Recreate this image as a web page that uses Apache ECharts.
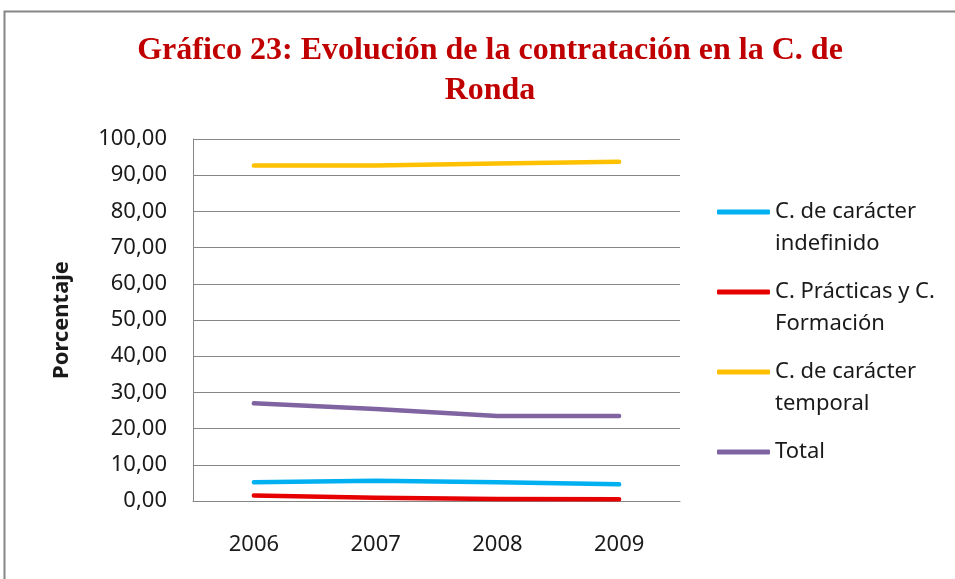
<!DOCTYPE html>
<html>
<head>
<meta charset="utf-8">
<script src="https://cdn.jsdelivr.net/npm/echarts@6/dist/echarts.min.js"></script>
<style>
  html, body { margin: 0; padding: 0; background: #fff; }
  #chart { width: 955px; height: 579px; }
</style>
</head>
<body>
<div id="chart"></div>
<script>
// datos
var years = ['2006', '2007', '2008', '2009'];
var indefinido = [5.2, 5.6, 5.2, 4.6];
var practicas = [1.5, 0.9, 0.55, 0.5];
var temporal = [92.7, 92.7, 93.2, 93.7];
var total = [27.0, 25.4, 23.5, 23.5];
var seriesNames = ['C. de carácter indefinido', 'C. Prácticas y C. Formación', 'C. de carácter temporal', 'Total'];
// nombres partidos en dos lineas como en la leyenda
var legendLabels = {
  'C. de carácter indefinido': 'C. de carácter\nindefinido',
  'C. Prácticas y C. Formación': 'C. Prácticas y C.\nFormación',
  'C. de carácter temporal': 'C. de carácter\ntemporal',
  'Total': 'Total\n '
};

var chart = echarts.init(document.getElementById('chart'));

function lineSerie(name, data, color) {
  return {
    name: name,
    type: 'line',
    data: data,
    showSymbol: false,
    symbol: 'none',
    color: color,
    lineStyle: { width: 4.5, color: color, cap: 'round', join: 'round' }
  };
}

var option = {
  animation: false,
  backgroundColor: '#ffffff',
  title: {
    text: 'Gráfico 23: Evolución de la contratación en la C. de\nRonda',
    left: 485,
    top: 26,
    textAlign: 'center',
    textStyle: {
      fontFamily: 'Liberation Serif',
      fontWeight: 'bold',
      fontSize: 32,
      lineHeight: 40,
      color: '#C00000'
    }
  },
  graphic: [{
    type: 'rect',
    shape: { x: 4.5, y: 11.5, width: 1000, height: 1000 },
    style: { fill: 'none', stroke: '#868686', lineWidth: 2 },
    silent: true
  }],
  grid: { left: 193, right: 275, top: 139, bottom: 78 },
  legend: {
    orient: 'vertical',
    left: 717,
    top: 164,
    padding: 0,
    itemGap: -16,
    itemWidth: 53,
    itemHeight: 5,
    icon: 'roundRect',
    data: seriesNames,
    formatter: function (name) { return ' \n' + legendLabels[name]; },
    textStyle: {
      fontFamily: 'Noto Sans',
      fontSize: 22,
      lineHeight: 32,
      color: '#1a1a1a',
      padding: [0, 0, 0, 0]
    }
  },
  xAxis: {
    type: 'category',
    data: years,
    boundaryGap: true,
    axisLine: { lineStyle: { color: '#868686', width: 1 } },
    axisTick: { show: false },
    axisLabel: { fontFamily: 'Noto Sans', fontSize: 22, color: '#1a1a1a', margin: 33 }
  },
  yAxis: {
    type: 'value',
    min: 0,
    max: 100,
    interval: 10,
    name: 'Porcentaje',
    nameLocation: 'middle',
    nameGap: 120,
    nameTextStyle: { fontFamily: 'Noto Sans', fontSize: 22, fontWeight: 'bold', color: '#1a1a1a' },
    axisLine: { show: true, lineStyle: { color: '#868686', width: 1 } },
    axisTick: { show: false },
    splitLine: { lineStyle: { color: '#868686', width: 1 } },
    axisLabel: {
      fontFamily: 'Noto Sans',
      fontSize: 22,
      color: '#1a1a1a',
      margin: 26,
      formatter: function (v) { return v.toFixed(2).replace('.', ','); }
    }
  },
  series: [
    lineSerie(seriesNames[0], indefinido, '#00B0F0'),
    lineSerie(seriesNames[1], practicas, '#E60000'),
    lineSerie(seriesNames[2], temporal, '#FFC000'),
    lineSerie(seriesNames[3], total, '#8064A2')
  ]
};

chart.setOption(option);
</script>
</body>
</html>
